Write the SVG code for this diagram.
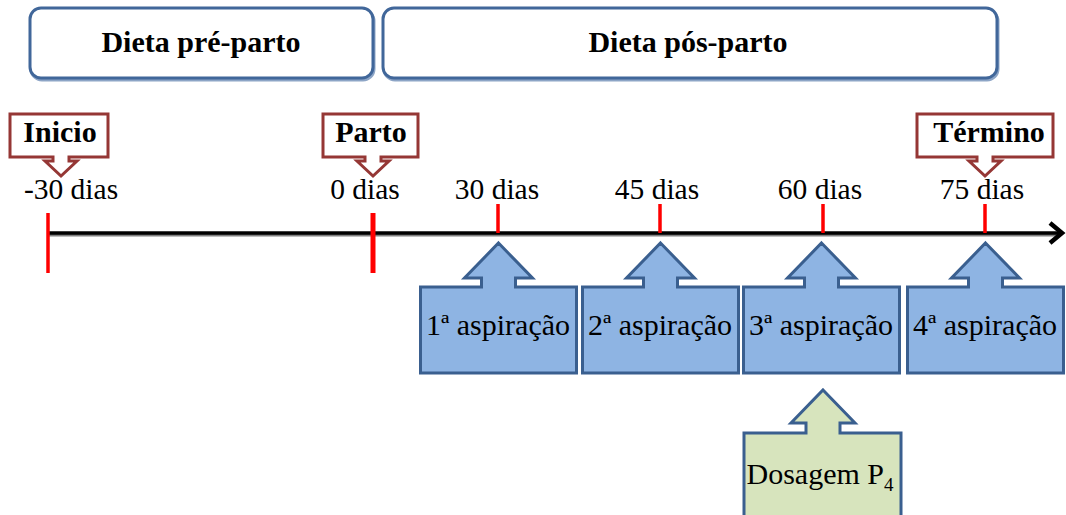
<svg xmlns="http://www.w3.org/2000/svg" xmlns:xlink="http://www.w3.org/1999/xlink" width="1066" height="515" viewBox="0 0 1066 515">
<style>
.phase{fill:#fff;stroke:#41679A;stroke-width:3}
.phase-sh{fill:none;stroke:#8DA5C6;stroke-width:3}
.hdr{font-family:"Liberation Serif",serif;font-weight:bold;font-size:30px;fill:#000;text-anchor:middle}
.lbl{font-family:"Liberation Serif",serif;font-size:29.5px;fill:#000;text-anchor:middle}
.asp{font-family:"Liberation Serif",serif;font-size:30px;fill:#000;text-anchor:middle}
.red{fill:#fff;stroke:#953735;stroke-width:3;stroke-linejoin:miter}
.blue{fill:#8EB4E3;stroke:#3A5F8F;stroke-width:3}
.green{fill:#D7E4BD;stroke:#3A5F8F;stroke-width:3}
.tick{stroke:#FF0000;stroke-width:3.5}
</style>
<defs>
<path id="upcall" d="M0,0 L34,35 H17 V44 H78 V130 H-78 V44 H-17 V35 H-34 Z"/>
</defs>

<g id="phase-pre">
<rect class="phase-sh" x="31" y="10" width="343" height="70" rx="11"/>
<rect class="phase" x="30" y="8" width="343" height="70" rx="11"/>
<text class="hdr" x="201" y="52">Dieta pré-parto</text>
</g>
<g id="phase-post">
<rect class="phase-sh" x="384" y="10" width="614" height="70" rx="11"/>
<rect class="phase" x="383" y="8" width="614" height="70" rx="11"/>
<text class="hdr" x="688" y="52">Dieta pós-parto</text>
</g>

<g id="connectors">
<line x1="48" y1="235" x2="1060" y2="235" stroke="#808080" stroke-width="3"/>
<line x1="48" y1="233" x2="1061" y2="233" stroke="#000" stroke-width="3.5"/>
<polyline points="1050,223 1062,233 1050,243" fill="none" stroke="#000" stroke-width="4.5"/>
<line class="tick" x1="48" y1="213" x2="48" y2="273"/>
<line class="tick" x1="373" y1="213" x2="373" y2="273" style="stroke-width:5"/>
<line class="tick" x1="498" y1="204" x2="498" y2="233"/>
<line class="tick" x1="660" y1="204" x2="660" y2="233"/>
<line class="tick" x1="823" y1="204" x2="823" y2="233"/>
<line class="tick" x1="985" y1="204" x2="985" y2="233"/>
</g>

<g id="labels">
<text class="lbl" x="71" y="199">-30 dias</text>
<text class="lbl" x="365" y="199">0 dias</text>
<text class="lbl" x="497" y="199">30 dias</text>
<text class="lbl" x="657" y="199">45 dias</text>
<text class="lbl" x="820" y="199">60 dias</text>
<text class="lbl" x="982" y="199">75 dias</text>
</g>

<g id="inicio">
<path class="red" d="M10,114 H108 V157 H69 V161 H77 L61,176 L45,161 H53 V157 H10 Z"/>
<text class="hdr" x="60" y="142">Inicio</text>
</g>
<g id="parto">
<path class="red" d="M323,114 H418 V157 H381 V161 H389 L373,176 L357,161 H365 V157 H323 Z"/>
<text class="hdr" x="371" y="142">Parto</text>
</g>
<g id="termino">
<path class="red" d="M917,114 H1053 V157 H993 V161 H1001 L985,176 L969,161 H977 V157 H917 Z"/>
<text class="hdr" x="989" y="142">Término</text>
</g>

<g id="asp1">
<use xlink:href="#upcall" class="blue" transform="translate(498.5,243)"/>
<text class="asp" x="498" y="335">1ª aspiração</text>
</g>
<g id="asp2">
<use xlink:href="#upcall" class="blue" transform="translate(660.5,243)"/>
<text class="asp" x="660" y="335">2ª aspiração</text>
</g>
<g id="asp3">
<use xlink:href="#upcall" class="blue" transform="translate(821.5,243)"/>
<text class="asp" x="821" y="335">3ª aspiração</text>
</g>
<g id="asp4">
<use xlink:href="#upcall" class="blue" transform="translate(985.5,243)"/>
<text class="asp" x="985" y="335">4ª aspiração</text>
</g>

<g id="dosagem">
<path class="green" d="M823,390 L855,423 H840 V433 H901 V530 H744 V433 H806 V423 H791 Z"/>
<text class="asp" x="820" y="484">Dosagem P<tspan font-size="19" dy="7">4</tspan></text>
</g>
</svg>
